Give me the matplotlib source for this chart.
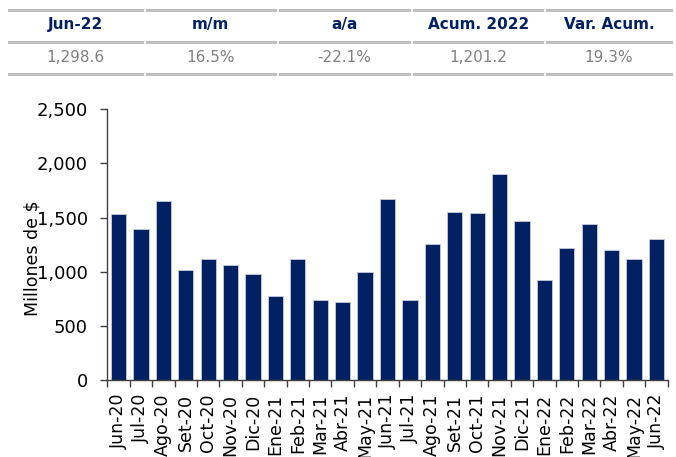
import numpy as np
import matplotlib
matplotlib.use("Agg")
import matplotlib.pyplot as plt
from matplotlib.lines import Line2D

# monthly values (millones de $)
months = ["Jun-20", "Jul-20", "Ago-20", "Set-20", "Oct-20", "Nov-20", "Dic-20",
          "Ene-21", "Feb-21", "Mar-21", "Abr-21", "May-21", "Jun-21", "Jul-21",
          "Ago-21", "Set-21", "Oct-21", "Nov-21", "Dic-21", "Ene-22", "Feb-22",
          "Mar-22", "Abr-22", "May-22", "Jun-22"]
values = [1530, 1390, 1655, 1012, 1113, 1064, 978,
          772, 1113, 735, 722, 999, 1670, 735,
          1252, 1553, 1541, 1907, 1464, 922, 1215,
          1439, 1199, 1113, 1298.6]

# summary table above the chart
table_headers = ["Jun-22", "m/m", "a/a", "Acum. 2022", "Var. Acum."]
table_values = ["1,298.6", "16.5%", "-22.1%", "1,201.2", "19.3%"]

navy = "#022163"
W, H = 676, 457

plt.rcParams['font.family'] = ['DejaVu Sans']
fig = plt.figure(figsize=(W / 100, H / 100), dpi=100)

# --- table ---
col_edges = [(9, 141.7), (146.7, 275), (280, 408.7), (414.3, 542), (547, 671)]
line_ys = [10, 41.7, 74]
for x0, x1 in col_edges:
    for ly in line_ys:
        fig.add_artist(Line2D([x0 / W, x1 / W], [1 - ly / H, 1 - ly / H],
                              color="#bfbfbf", lw=2.2, transform=fig.transFigure))
for (x0, x1), hd, val in zip(col_edges, table_headers, table_values):
    xc = (x0 + x1) / 2 / W
    fig.text(xc, 1 - 24.5 / H, hd, ha="center", va="center", fontsize=11,
             fontweight="bold", color=navy)
    fig.text(xc, 1 - 57.5 / H, val, ha="center", va="center", fontsize=11,
             color="#808080")

# --- bar chart ---
ax = fig.add_axes([107.3 / W, 1 - 380 / H, (667.7 - 107.3) / W, (380 - 109.3) / H])
x = np.arange(len(months))
ax.bar(x, values, width=0.68, color=navy, edgecolor="#c8cdd8", linewidth=0.6)

ax.set_xlim(-0.5, len(months) - 0.5)
ax.set_ylim(0, 2500)
ax.set_yticks(np.arange(0, 2501, 500))
ax.set_yticklabels([f"{v:,}" for v in range(0, 2501, 500)], fontsize=13)
ax.set_ylabel("Millones de $", fontsize=12.5)
ax.yaxis.set_label_coords(-0.117, 0.45)

ax.set_xticks(x)
ax.set_xticklabels(months, rotation=90, fontsize=12.5)
ax.set_xticks(np.arange(-0.5, len(months), 1), minor=True)
ax.tick_params(axis="x", which="major", length=0, pad=10)
ax.tick_params(axis="x", which="minor", length=5, width=1, color="#404040")
ax.tick_params(axis="y", length=5, width=1, color="#404040", pad=9)

for s in ["top", "right"]:
    ax.spines[s].set_visible(False)
for s in ["left", "bottom"]:
    ax.spines[s].set_color("#404040")
    ax.spines[s].set_linewidth(1)

fig.savefig("out.png", dpi=100)
